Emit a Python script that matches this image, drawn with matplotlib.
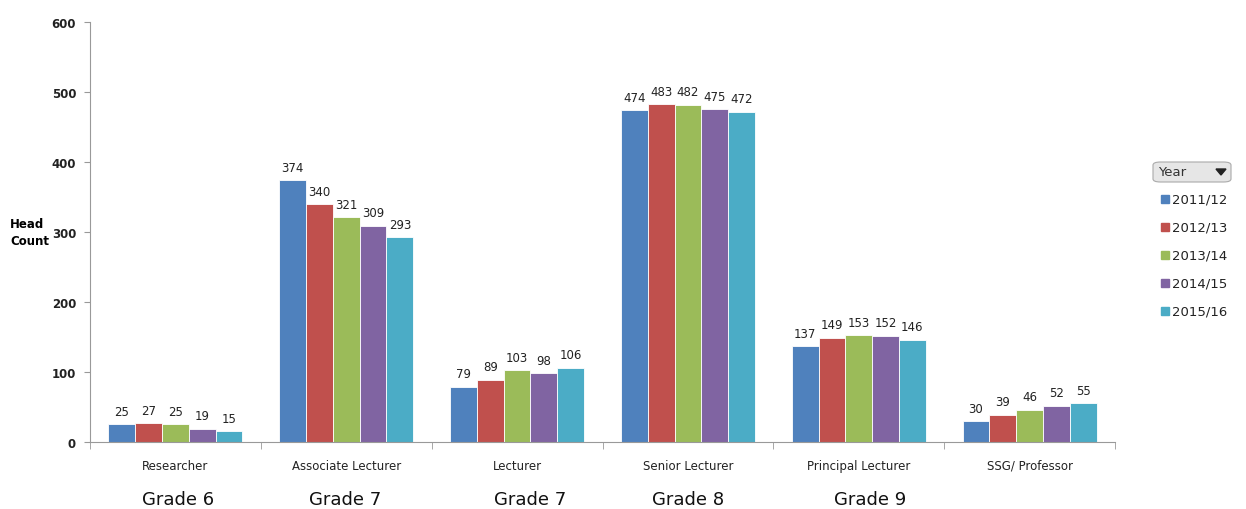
import matplotlib.pyplot as plt
import numpy as np
from matplotlib.patches import FancyBboxPatch, Rectangle, Polygon

roles = ["Researcher", "Associate Lecturer", "Lecturer", "Senior Lecturer",
         "Principal Lecturer", "SSG/ Professor"]
years = ["2011/12", "2012/13", "2013/14", "2014/15", "2015/16"]
counts = {
    "2011/12": [25, 374, 79, 474, 137, 30],
    "2012/13": [27, 340, 89, 483, 149, 39],
    "2013/14": [25, 321, 103, 482, 153, 46],
    "2014/15": [19, 309, 98, 475, 152, 52],
    "2015/16": [15, 293, 106, 472, 146, 55],
}
grades = ["Grade 6", "Grade 7", "Grade 7", "Grade 8", "Grade 9"]
grade_x = [178, 345, 530, 688, 870]  # pixel centres under the groups

colors = ["#4F81BD", "#C0504D", "#9BBB59", "#8064A2", "#4BACC6"]

W, H = 1246, 510
fig = plt.figure(figsize=(W / 100, H / 100), dpi=100)
ax = fig.add_axes([0.0722, 0.1314, 0.8227, 0.8235])

x = np.arange(len(roles))
w = 0.157
for i, yr in enumerate(years):
    pos = x + (i - 2) * w
    bars = ax.bar(pos, counts[yr], width=w, color=colors[i], edgecolor="white",
                  linewidth=0.6, zorder=2)
    for b, v in zip(bars, counts[yr]):
        ax.text(b.get_x() + b.get_width() / 2, v + 9, str(v), ha="center",
                va="bottom", fontsize=8.5, color="#222222")

ax.set_xlim(-0.5, len(roles) - 0.5)
ax.set_ylim(0, 600)
ax.set_yticks(range(0, 601, 100))
ax.set_yticklabels([str(v) for v in range(0, 601, 100)], fontsize=8.5,
                   fontweight="bold", color="#222222")
ax.set_xticks(x)
ax.set_xticklabels(roles, fontsize=8.5, color="#222222")
ax.set_xticks(np.arange(-0.5, len(roles), 1), minor=True)
ax.tick_params(axis="x", which="major", length=0, pad=12)
ax.tick_params(axis="x", which="minor", length=5, color="#999999")
ax.tick_params(axis="y", length=4, color="#999999", pad=6)

for side in ["top", "right"]:
    ax.spines[side].set_visible(False)
for side in ["left", "bottom"]:
    ax.spines[side].set_color("#999999")

fig.text(10 / W, 1 - 233 / H, "Head\nCount", fontsize=8.5,
         fontweight="bold", ha="left", va="center", linespacing=1.4)

for g, gx in zip(grades, grade_x):
    fig.text(gx / W, 1 - 500 / H, g, fontsize=13, ha="center",
             va="center", color="#111111")

# dropdown-style legend header
hdr = FancyBboxPatch((1153 / W, 1 - 183 / H), 78 / W, 20 / H,
                     boxstyle="round,pad=0,rounding_size=0.006",
                     transform=fig.transFigure, facecolor="#E6E6E6",
                     edgecolor="#AAAAAA", linewidth=0.8)
fig.patches.append(hdr)
fig.text(1158 / W, 1 - 173 / H, "Year", fontsize=9.5, va="center",
         color="#333333")
tri = Polygon([[1216 / W, 1 - 170 / H], [1226 / W, 1 - 170 / H],
               [1221 / W, 1 - 176 / H]], closed=True,
              transform=fig.transFigure, color="#222222")
fig.patches.append(tri)

for i, yr in enumerate(years):
    yc = 200 + i * 28
    sq = Rectangle((1161 / W, 1 - (yc + 4) / H), 8 / W, 8 / H,
                   transform=fig.transFigure, color=colors[i])
    fig.patches.append(sq)
    fig.text(1172 / W, 1 - yc / H, yr, fontsize=9.5, va="center",
             color="#222222")

fig.savefig("out.png", dpi=100)
